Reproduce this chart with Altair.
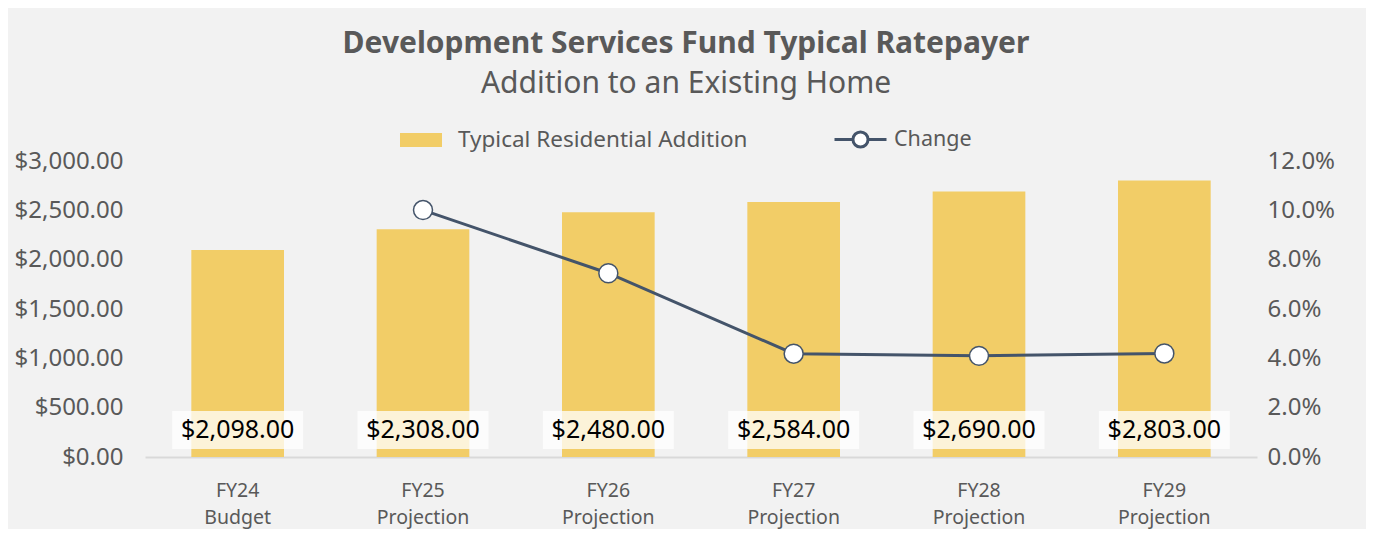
import altair as alt
import pandas as pd

categories = ["FY24 Budget", "FY25 Projection", "FY26 Projection",
              "FY27 Projection", "FY28 Projection", "FY29 Projection"]
costs = [2098.00, 2308.00, 2480.00, 2584.00, 2690.00, 2803.00]
changes = [None, 0.1001, 0.0745, 0.0419, 0.0410, 0.0420]
bar_series = "Typical Residential Addition"
line_series = "Change"
left_ticks = [0, 500, 1000, 1500, 2000, 2500, 3000]
right_ticks = [0.0, 0.02, 0.04, 0.06, 0.08, 0.10, 0.12]

df = pd.DataFrame({
    "cat": categories,
    "cost": costs,
    "change": changes,
    "bar_series": [bar_series] * len(categories),
    "line_series": [line_series] * len(categories),
})

FONT = "Noto Sans"
GRAY = "#595959"
BAR = "#f2cd67"
LINE = "#44546a"

x_enc = alt.X(
    "cat:N", sort=categories,
    scale=alt.Scale(domain=categories, paddingInner=0.5, paddingOuter=0.25),
    axis=alt.Axis(title=None, labelExpr="split(datum.label, ' ')", labelAngle=0,
                  labelFontSize=19.5, labelColor=GRAY, labelFont=FONT,
                  labelLineHeight=27, labelPadding=33, ticks=False,
                  domainColor="#d9d9d9", domainWidth=2, labelBaseline="middle"),
)
x_plain = alt.X("cat:N", sort=categories)

left_scale = alt.Scale(domain=[0, 3000])

bars = alt.Chart(df).mark_bar().encode(
    x=x_enc,
    y=alt.Y("cost:Q", scale=left_scale,
            axis=alt.Axis(title=None, values=left_ticks, format="$,.2f",
                          labelFontSize=24, labelColor=GRAY, labelFont=FONT,
                          labelPadding=22, ticks=False, domain=False, grid=False)),
    color=alt.Color("bar_series:N",
                    scale=alt.Scale(domain=[bar_series], range=[BAR]),
                    legend=alt.Legend(title=None, orient="none", legendX=255, legendY=-42,
                                      symbolType="M-1,-0.333H1V0.333H-1Z", symbolSize=1764,
                                      symbolStrokeWidth=0, labelFontSize=22.5, labelFont=FONT,
                                      labelColor=GRAY, labelOffset=16, labelLimit=500,
                                      padding=0)),
)

boxes = alt.Chart(df).mark_bar(width=131, color="white", opacity=0.75).encode(
    x=x_plain, y=alt.datum(466), y2=alt.datum(81),
)

labels = alt.Chart(df).mark_text(fontSize=25, color="black", font=FONT,
                                 baseline="middle").encode(
    x=x_plain, y=alt.datum(274),
    text=alt.Text("cost:Q", format="$,.2f"),
)

left_layer = alt.layer(bars, boxes, labels)

line = alt.Chart(df).transform_filter("isValid(datum.change)").mark_line(
    strokeWidth=3,
    point=alt.OverlayMarkDef(filled=True, fill="white", strokeWidth=1.5, size=360, opacity=1),
).encode(
    x=x_plain,
    y=alt.Y("change:Q", scale=alt.Scale(domain=[0, 0.12]),
            axis=alt.Axis(title=None, orient="right", values=right_ticks, format=".1%",
                          labelFontSize=24, labelColor=GRAY, labelFont=FONT,
                          labelPadding=10, ticks=False, domain=False, grid=False)),
    stroke=alt.Stroke("line_series:N",
                      scale=alt.Scale(domain=[line_series], range=[LINE]),
                      legend=alt.Legend(title=None, orient="none", legendX=688, legendY=-49,
                                        symbolType="M-1,0H-0.29M0.29,0H1M0.29,0A0.29,0.29,0,1,1,-0.29,0A0.29,0.29,0,1,1,0.29,0Z",
                                        symbolSize=2704, symbolStrokeWidth=3,
                                        symbolFillColor="white", labelFontSize=21.5,
                                        labelFont=FONT, labelColor=GRAY, labelOffset=6,
                                        labelLimit=500, padding=0)),
)

chart = alt.layer(left_layer, line).resolve_scale(
    y="independent", color="independent", stroke="independent"
).properties(
    width=1112, height=296,
    autosize=alt.AutoSizeParams(type="none"),
    padding={"left": 137, "top": 153, "right": 109, "bottom": 72},
    background="#f2f2f2",
    title=alt.TitleParams(
        text="Development Services Fund Typical Ratepayer",
        subtitle="Addition to an Existing Home",
        font=FONT, fontSize=30, fontWeight="bold", color=GRAY,
        subtitleFont=FONT, subtitleFontSize=30, subtitleColor=GRAY,
        subtitleFontWeight="normal", subtitlePadding=10,
        anchor="middle", frame="group", offset=13, dx=-15,
    ),
).configure_view(stroke=None)

chart.save("out.html", embed_options={"renderer": "svg", "actions": False})
